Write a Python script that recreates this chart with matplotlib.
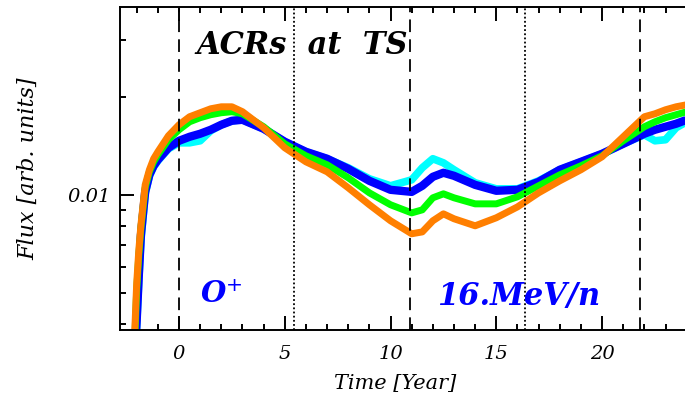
import matplotlib
matplotlib.use("Agg")
from matplotlib import pyplot as plt
from matplotlib.ticker import FixedLocator, NullFormatter, FixedFormatter

# time in years, flux in arbitrary units
years = [-2.1, -2.0, -1.9, -1.8, -1.6, -1.4, -1.2, -1.0, -0.5, 0, 0.5, 1, 1.5, 2, 2.5, 3,
         4, 5, 6, 7, 8, 9, 10, 11, 11.5, 12, 12.5, 13, 14, 15, 16, 17, 18, 19, 20, 21,
         22, 22.5, 23, 23.5, 24, 24.6]

flux_cyan = [0.00300, 0.00398, 0.00548, 0.00727, 0.01007, 0.01144, 0.01219, 0.01272, 0.01385,
             0.01445, 0.01445, 0.01466, 0.01574, 0.01642, 0.01689, 0.01701, 0.01596, 0.01456,
             0.01356, 0.01291, 0.01211, 0.01120, 0.01066, 0.01112, 0.01211, 0.01291, 0.01254,
             0.01194, 0.01089, 0.01043, 0.01043, 0.01104, 0.01194, 0.01263, 0.01337, 0.01435,
             0.01530, 0.01466, 0.01477, 0.01608, 0.01677, 0.01726]

flux_blue = [0.00311, 0.00412, 0.00567, 0.00753, 0.01021, 0.01152, 0.01228, 0.01281, 0.01395,
             0.01466, 0.01508, 0.01541, 0.01585, 0.01642, 0.01689, 0.01701, 0.01596, 0.01456,
             0.01356, 0.01291, 0.01202, 0.01104, 0.01036, 0.01021, 0.01066, 0.01136, 0.01169,
             0.01144, 0.01073, 0.01029, 0.01036, 0.01096, 0.01194, 0.01263, 0.01337, 0.01435,
             0.01541, 0.01585, 0.01619, 0.01654, 0.01701, 0.01738]

flux_green = [0.00346, 0.00510, 0.00654, 0.00792, 0.01051, 0.01177, 0.01263, 0.01328, 0.01477,
              0.01585, 0.01677, 0.01726, 0.01763, 0.01788, 0.01801, 0.01775, 0.01619, 0.01435,
              0.01318, 0.01237, 0.01128, 0.01014, 0.00932, 0.00880, 0.00899, 0.00979, 0.01007,
              0.00979, 0.00938, 0.00938, 0.00986, 0.01066, 0.01152, 0.01228, 0.01318, 0.01466,
              0.01619, 0.01677, 0.01726, 0.01763, 0.01801, 0.01826]

flux_orange = [0.00371, 0.00536, 0.00677, 0.00809, 0.01073, 0.01194, 0.01291, 0.01356, 0.01519,
               0.01642, 0.01738, 0.01788, 0.01839, 0.01865, 0.01865, 0.01801, 0.01608, 0.01395,
               0.01263, 0.01177, 0.01051, 0.00932, 0.00832, 0.00759, 0.00769, 0.00832, 0.00874,
               0.00844, 0.00803, 0.00850, 0.00918, 0.01014, 0.01104, 0.01194, 0.01309, 0.01508,
               0.01738, 0.01775, 0.01826, 0.01865, 0.01892, 0.01919]

# solar cycle markers
dashed_years = [0, 10.9, 21.8]
dotted_years = [5.45, 16.35]

y_minor = [0.004, 0.005, 0.006, 0.007, 0.008, 0.009, 0.02, 0.03]

serif = "DejaVu Serif"

fig = plt.figure(figsize=(6.85, 4.01), dpi=100)
ax = fig.add_axes([120 / 685, 1 - 330 / 401, 580 / 685, 323 / 401])

ax.plot(years, flux_cyan, color="#00ffff", lw=5.5, solid_capstyle="butt")
ax.plot(years, flux_blue, color="#0000ff", lw=6.0, solid_capstyle="butt")
ax.plot(years, flux_green, color="#00ff00", lw=5.0, solid_capstyle="butt")
ax.plot(years, flux_orange, color="#ff7f00", lw=5.0, solid_capstyle="butt")

for t in dashed_years:
    ax.axvline(t, color="black", lw=1.3, dashes=(7, 4))
for t in dotted_years:
    ax.axvline(t, color="black", lw=1.3, dashes=(1, 1.3))

ax.set_yscale("log")
ax.set_xlim(-2.79, 24.63)
ax.set_ylim(0.00384, 0.0378)

ax.xaxis.set_major_locator(FixedLocator([0, 5, 10, 15, 20]))
ax.xaxis.set_minor_locator(FixedLocator(range(-2, 25)))
ax.yaxis.set_major_locator(FixedLocator([0.01]))
ax.yaxis.set_major_formatter(FixedFormatter(["0.01"]))
ax.yaxis.set_minor_locator(FixedLocator(y_minor))
ax.yaxis.set_minor_formatter(NullFormatter())

ax.tick_params(which="both", direction="in", top=True, right=False, width=1.4)
ax.tick_params(which="major", length=10)
ax.tick_params(which="minor", length=4.5)
ax.tick_params(axis="y", which="major", pad=7)
ax.tick_params(axis="x", which="major", pad=11)
for lab in ax.get_xticklabels() + ax.get_yticklabels():
    lab.set_family(serif)
    lab.set_style("italic")
    lab.set_fontsize(14)

for side in ["left", "bottom", "top"]:
    ax.spines[side].set_linewidth(1.4)
ax.spines["right"].set_visible(False)

ax.set_xlabel("Time [Year]", family=serif, style="italic", fontsize=15)
ax.xaxis.set_label_coords(0.474, -0.135)
ax.set_ylabel("Flux [arb. units]", family=serif, style="italic", fontsize=16)
ax.yaxis.set_label_coords(-0.14, 0.5)

ax.text(0.131, 0.882, "ACRs  at  TS", transform=ax.transAxes, family=serif,
        style="italic", weight="bold", fontsize=22, va="center", ha="left")
ax.text(0.138, 0.11, "O$^{+}$", transform=ax.transAxes, family=serif,
        style="italic", weight="bold", fontsize=21, color="#0000ff", va="center", ha="left")
ax.text(0.547, 0.105, "16.MeV/n", transform=ax.transAxes, family=serif,
        style="italic", weight="bold", fontsize=22, color="#0000ff", va="center", ha="left")

fig.savefig("out.png", dpi=100)
